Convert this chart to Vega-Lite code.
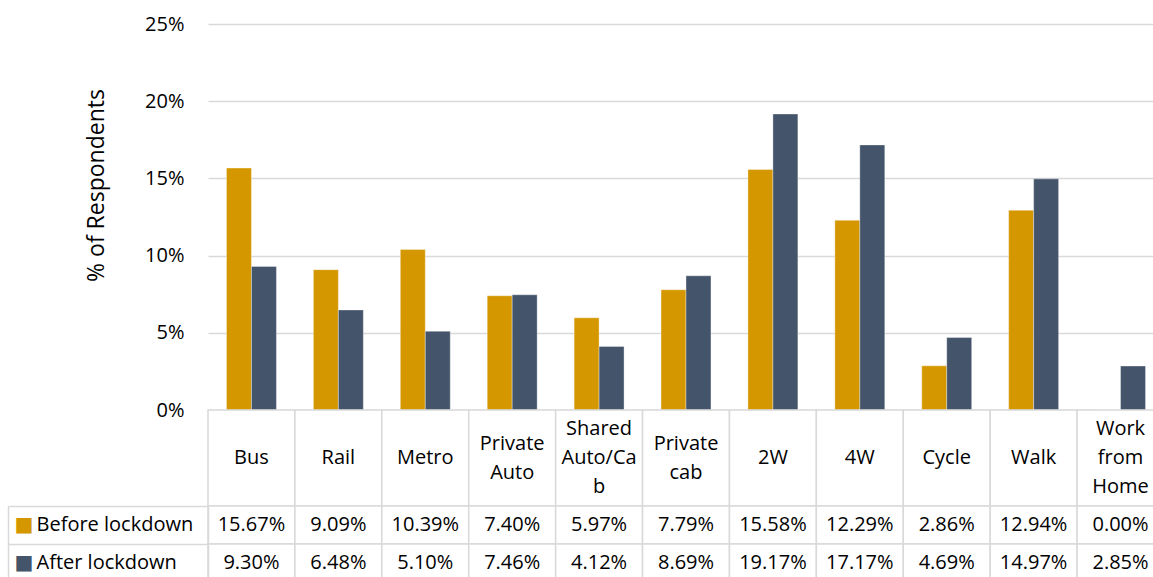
{
  "$schema": "https://vega.github.io/schema/vega-lite/v6.json",
  "padding": {"left": 7, "top": 14, "right": 0, "bottom": 0},
  "bounds": "flush",
  "spacing": 0,
  "config": {
    "font": "Open Sans",
    "view": {"stroke": null},
    "text": {"font": "Open Sans", "fontSize": 20, "color": "#000000"}
  },
  "datasets": {
    "shares": [
      {"mode": "Bus", "period": "Before lockdown", "value": 0.1567},
      {"mode": "Bus", "period": "After lockdown", "value": 0.0930},
      {"mode": "Rail", "period": "Before lockdown", "value": 0.0909},
      {"mode": "Rail", "period": "After lockdown", "value": 0.0648},
      {"mode": "Metro", "period": "Before lockdown", "value": 0.1039},
      {"mode": "Metro", "period": "After lockdown", "value": 0.0510},
      {"mode": "Private Auto", "period": "Before lockdown", "value": 0.0740},
      {"mode": "Private Auto", "period": "After lockdown", "value": 0.0746},
      {"mode": "Shared Auto/Cab", "period": "Before lockdown", "value": 0.0597},
      {"mode": "Shared Auto/Cab", "period": "After lockdown", "value": 0.0412},
      {"mode": "Private cab", "period": "Before lockdown", "value": 0.0779},
      {"mode": "Private cab", "period": "After lockdown", "value": 0.0869},
      {"mode": "2W", "period": "Before lockdown", "value": 0.1558},
      {"mode": "2W", "period": "After lockdown", "value": 0.1917},
      {"mode": "4W", "period": "Before lockdown", "value": 0.1229},
      {"mode": "4W", "period": "After lockdown", "value": 0.1717},
      {"mode": "Cycle", "period": "Before lockdown", "value": 0.0286},
      {"mode": "Cycle", "period": "After lockdown", "value": 0.0469},
      {"mode": "Walk", "period": "Before lockdown", "value": 0.1294},
      {"mode": "Walk", "period": "After lockdown", "value": 0.1497},
      {"mode": "Work from Home", "period": "Before lockdown", "value": 0.0},
      {"mode": "Work from Home", "period": "After lockdown", "value": 0.0285}
    ],
    "modes": [
      {"mode": "Bus", "lines": ["Bus"]},
      {"mode": "Rail", "lines": ["Rail"]},
      {"mode": "Metro", "lines": ["Metro"]},
      {"mode": "Private Auto", "lines": ["Private", "Auto"]},
      {"mode": "Shared Auto/Cab", "lines": ["Shared", "Auto/Ca", "b"]},
      {"mode": "Private cab", "lines": ["Private", "cab"]},
      {"mode": "2W", "lines": ["2W"]},
      {"mode": "4W", "lines": ["4W"]},
      {"mode": "Cycle", "lines": ["Cycle"]},
      {"mode": "Walk", "lines": ["Walk"]},
      {"mode": "Work from Home", "lines": ["Work", "from", "Home"]}
    ]
  },
  "resolve": {"scale": {"y": "independent"}, "legend": {"color": "independent"}},
  "vconcat": [
    {
      "width": 956,
      "height": 386,
      "data": {"name": "shares"},
      "mark": {"type": "bar", "stroke": "#ffffff", "strokeWidth": 0.6, "strokeOpacity": 0.6},
      "encoding": {
        "x": {"field": "mode", "type": "nominal", "sort": null, "scale": {"paddingInner": 0, "paddingOuter": 0}, "axis": null},
        "xOffset": {"field": "period", "type": "nominal", "sort": ["Before lockdown", "After lockdown"], "scale": {"paddingInner": 0, "paddingOuter": 0.74}},
        "y": {
          "field": "value", "type": "quantitative",
          "scale": {"domain": [0, 0.25], "nice": false},
          "axis": {
            "values": [0, 0.05, 0.1, 0.15, 0.2, 0.25],
            "format": ".0%",
            "title": "% of Respondents",
            "titleFontSize": 23,
            "titleFontWeight": "normal",
            "titleColor": "#000000",
            "titlePadding": 36,
            "titleY": 161,
            "labelFontSize": 20,
            "labelColor": "#000000",
            "labelPadding": 24,
            "domain": false,
            "ticks": false,
            "grid": true,
            "gridColor": "#d9d9d9",
            "gridWidth": 1.5
          }
        },
        "color": {
          "field": "period", "type": "nominal",
          "sort": ["Before lockdown", "After lockdown"],
          "scale": {"domain": ["Before lockdown", "After lockdown"], "range": ["#D49700", "#44546A"]},
          "legend": null
        }
      }
    },
    {
      "width": 956,
      "height": 96,
      "data": {"name": "modes"},
      "encoding": {
        "x": {"field": "mode", "type": "nominal", "sort": null, "scale": {"paddingInner": 0, "paddingOuter": 0}, "axis": null}
      },
      "layer": [
        {"mark": {"type": "rect", "fill": "#ffffff", "stroke": "#d9d9d9", "strokeWidth": 1.5}},
        {
          "mark": {
            "type": "text", "fontSize": 20, "baseline": "middle", "lineHeight": 29, "color": "#000000",
            "dy": {"expr": "-(length(datum.lines) - 1) * 14.5"}
          },
          "encoding": {"text": {"field": "lines", "type": "nominal"}}
        }
      ]
    },
    {
      "width": 956,
      "height": 76,
      "data": {"name": "shares"},
      "encoding": {
        "x": {"field": "mode", "type": "nominal", "sort": null, "scale": {"paddingInner": 0, "paddingOuter": 0}, "axis": null}
      },
      "layer": [
        {
          "mark": {"type": "rect", "fill": "#ffffff", "stroke": "#d9d9d9", "strokeWidth": 1.5},
          "encoding": {
            "y": {
              "field": "period", "type": "nominal", "sort": ["Before lockdown", "After lockdown"],
              "scale": {"paddingInner": 0, "paddingOuter": 0},
              "axis": {
                "orient": "left",
                "title": null,
                "bandPosition": 0,
                "ticks": true,
                "tickSize": 200,
                "tickColor": "#d9d9d9",
                "tickWidth": 1.5,
                "domain": true,
                "domainColor": "#d9d9d9",
                "domainWidth": 1.5,
                "labelAlign": "left",
                "labelPadding": -28,
                "labelFontSize": 20,
                "labelColor": "#000000",
                "labelBound": false,
                "labelOverlap": false
              }
            }
          }
        },
        {
          "mark": {"type": "text", "fontSize": 20, "color": "#000000"},
          "encoding": {
            "y": {
              "field": "period", "type": "nominal", "sort": ["Before lockdown", "After lockdown"],
              "scale": {"paddingInner": 0, "paddingOuter": 0},
              "axis": {
                "orient": "left",
                "title": null,
                "offset": 200,
                "ticks": false,
                "tickSize": 0,
                "domain": true,
                "domainColor": "#d9d9d9",
                "domainWidth": 1.5,
                "labelExpr": "'■'",
                "labelFont": "DejaVu Sans",
                "labelFontSize": 20,
                "labelAlign": "left",
                "labelPadding": -6,
                "labelOverlap": false,
                "labelColor": {"condition": {"test": "datum.value === 'Before lockdown'", "value": "#D49700"}, "value": "#44546A"}
              }
            },
            "text": {"field": "value", "type": "quantitative", "format": ".2%"}
          }
        }
      ],
      "resolve": {"axis": {"y": "independent"}}
    }
  ]
}
